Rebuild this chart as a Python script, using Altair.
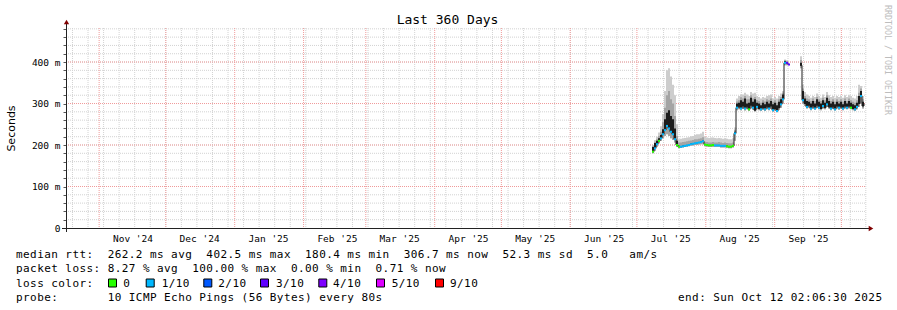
import pandas as pd
import altair as alt

MONO = "DejaVu Sans Mono"

# ---------------- time frame (360 days ending at "end") ----------------
START = "2024-10-17 02:06:30"
END = "2025-10-12 02:06:30"
MONTH_STARTS = ["2024-11-01", "2024-12-01", "2025-01-01", "2025-02-01", "2025-03-01",
                "2025-04-01", "2025-05-01", "2025-06-01", "2025-07-01", "2025-08-01",
                "2025-09-01", "2025-10-01"]
MONTH_LABEL_AT = ["2024-11-16", "2024-12-16", "2025-01-16", "2025-02-16", "2025-03-16",
                  "2025-04-16", "2025-05-16", "2025-06-16", "2025-07-16", "2025-08-16",
                  "2025-09-16"]
FIRST_WEEK = "2024-10-20"

Y_MINOR = list(range(20, 481, 20))
Y_MAJOR = [100, 200, 300, 400]
Y_TICKS = list(range(0, 481, 20))

# ---------------- measured series (ms) ----------------
SAMPLE_START = "2025-07-07 19:00"
SAMPLE_STEP_MIN = 1296  # 0.9 day per sample

MED = [184, 192, 202, 210, 216, 226, 236, 246, 240, 232, 226, 214, 200, 196, 196, 197, 198, 199,
       200, 202, 203, 204, 205, 206, 207, 209, 201, 200, 199, 199, 200, 199, 199, 199, 198, 198,
       198, 197, 196, 196, 198, 228, 290, 292, 288, 294, 288, 292, 286, 296, 290, 284, 292, 288,
       286, 290, 286, 292, 288, 294, 284, 288, 282, 290, 298, 310, 398, 398, 394,
       None, None, None, None, None,
       392, 308, 300, 292, 296, 288, 294, 288, 296, 290, 288, 294, 290, 298, 292, 288, 292, 286,
       294, 290, 292, 288, 294, 290, 294, 290, 288, 286, 292, 300, 318, 294, 300]
BLK = [195, 205, 210, 216, 224, 238, 262, 278, 284, 270, 262, 240, 210, 198, 197, 198, 199, 200,
       201, 203, 204, 205, 206, 207, 208, 210, 202, 201, 200, 200, 201, 200, 200, 200, 199, 199,
       199, 198, 197, 197, 199, 232, 300, 302, 308, 304, 312, 300, 302, 314, 304, 310, 302, 300,
       296, 302, 298, 304, 300, 306, 298, 302, 296, 304, 310, 322, 402, 400, 396,
       None, None, None, None, None,
       398, 330, 312, 306, 304, 300, 306, 300, 310, 304, 300, 308, 302, 314, 306, 300, 304, 298,
       304, 300, 304, 298, 306, 300, 306, 302, 298, 296, 302, 318, 330, 304, 307]
DK = [198, 208, 214, 222, 232, 255, 290, 320, 330, 310, 300, 270, 222, 206, 206, 207, 208, 209,
      210, 211, 212, 214, 214, 215, 216, 219, 208, 207, 206, 206, 207, 206, 206, 207, 206, 205,
      206, 205, 204, 204, 206, 236, 305, 308, 315, 312, 318, 310, 310, 320, 312, 316, 308, 306,
      302, 308, 305, 310, 308, 312, 304, 308, 302, 310, 316, 326, 404, 402, 399,
      None, None, None, None, None,
      405, 336, 318, 312, 310, 306, 312, 306, 316, 310, 306, 314, 308, 320, 312, 306, 310, 304,
      310, 306, 310, 304, 312, 306, 312, 308, 304, 302, 308, 326, 336, 310, 312]
HI = [200, 212, 220, 230, 245, 275, 330, 380, 385, 365, 345, 320, 250, 214, 215, 216, 217, 218,
      219, 221, 222, 224, 226, 226, 228, 232, 220, 218, 217, 218, 218, 217, 216, 217, 216, 215,
      216, 215, 214, 214, 216, 242, 312, 318, 322, 322, 326, 322, 318, 328, 324, 326, 318, 316,
      312, 316, 314, 318, 320, 322, 312, 316, 312, 318, 324, 330, 406, 404, 402,
      None, None, None, None, None,
      414, 345, 328, 322, 318, 314, 318, 316, 324, 318, 314, 322, 316, 328, 320, 316, 318, 314,
      318, 316, 318, 314, 320, 316, 320, 318, 314, 312, 318, 345, 342, 318, 320]
LO = [180, 186, 196, 204, 210, 216, 222, 226, 222, 216, 212, 206, 195, 192, 193, 194, 195, 196,
      197, 198, 199, 200, 200, 201, 202, 203, 197, 196, 195, 195, 195, 195, 195, 195, 194, 194,
      194, 193, 192, 192, 194, 210, 284, 286, 284, 287, 283, 286, 282, 288, 285, 281, 286, 284,
      282, 285, 282, 286, 284, 287, 280, 284, 279, 285, 290, 300, 392, 392, 390,
      None, None, None, None, None,
      385, 300, 294, 288, 290, 284, 288, 285, 290, 286, 284, 288, 286, 292, 288, 284, 287, 283,
      288, 285, 287, 284, 288, 286, 288, 286, 284, 282, 286, 292, 300, 288, 294]
# loss colour visible at the median (None = covered by the dark smoke / no data)
LOSS = ["0", "1/10", "1/10", "0", "1/10", "1/10", "1/10", "1/10", "1/10", "1/10", "1/10", "1/10",
        "0", "0", "1/10", "1/10", "1/10", "1/10", "1/10", "1/10", "1/10", "1/10", "1/10", "1/10",
        "1/10", "1/10", "0", "0", "0", "0", "0", "1/10", "1/10", "1/10", "1/10", "1/10", "1/10",
        "0", "0", "0", "0", "1/10",
        "1/10", None, "1/10", None, "1/10", None, "0", None, "1/10", None, "1/10", None, "1/10",
        None, "1/10", None, "1/10", None, "1/10", None, "1/10", None, "1/10", "1/10", "1/10",
        None, None, None, None, None,
        "9/10", "1/10", None, "1/10", None, "1/10", None, "1/10", None, "1/10", None, "1/10",
        None, "1/10", None, "1/10", None, "1/10", None, "1/10", None, "1/10", None, "1/10", None,
        "1/10", None, "0", None, "1/10", "1/10", None, "1/10"]
LOSS[66:69] = ["1/10", "3/10", "3/10"]

LOSS_NAMES = ["0", "1/10", "2/10", "3/10", "4/10", "5/10", "9/10"]
LOSS_COLORS = ["#26ff00", "#00b8ff", "#0059ff", "#5e00ff", "#7e00ff", "#dd00ff", "#ff0000"]

# ---------------- legend text ----------------
LEG_RTT = "median rtt:  262.2 ms avg  402.5 ms max  180.4 ms min  306.7 ms now  52.3 ms sd  5.0   am/s"
LEG_LOSS = "packet loss: 8.27 % avg  100.00 % max  0.00 % min  0.71 % now"
LEG_COLOR = "loss color:"
LEG_PROBE = "probe:       10 ICMP Echo Pings (56 Bytes) every 80s"
LEG_END = "end: Sun Oct 12 02:06:30 2025"
TITLE = "Last 360 Days"
WATERMARK = "RRDTOOL / TOBI OETIKER"


def ms(s):
    return int(pd.Timestamp(s, tz="UTC").timestamp() * 1000)


T0, T1 = ms(START), ms(END)
month_ms = [ms(d) for d in MONTH_STARTS]
label_ms = [ms(d) for d in MONTH_LABEL_AT]
week_ms = [int(t.timestamp() * 1000) for t in pd.date_range(FIRST_WEEK, END[:10], freq="7D", tz="UTC")]

n = len(MED)
LOSS = (LOSS + [None] * n)[:n]
times = pd.date_range(SAMPLE_START, periods=n, freq=f"{SAMPLE_STEP_MIN}min", tz="UTC")
t_ms = [int(t.timestamp() * 1000) for t in times]
df = pd.DataFrame({"t": t_ms, "med": MED, "blk": BLK, "dk": DK, "hi": HI, "lo": LO, "loss": LOSS})
gap_at = MED.index(None)
df["seg"] = [0 if i < gap_at else 1 for i in range(len(df))]
df["tn"] = df["t"] + SAMPLE_STEP_MIN * 60 * 1000
df = df.dropna(subset=["med"]).reset_index(drop=True)
df_loss = df.dropna(subset=["loss"])

# ---------------- layout (pixels, relative to plot origin) ----------------
W, H = 800, 200
PAD = {"left": 66, "top": 28, "right": 31, "bottom": 82}
CHAR = 7.05
LEG_X0 = 16 - PAD["left"]
ROW_Y = [229.5, 244.0, 258.5, 273.0]
BOX_X = [112.5, 150.2, 207.8, 264.5, 322.8, 380.5, 439.5]
BOX_LABEL_X = [123.3, 161.7, 218.3, 276.0, 333.0, 391.7, 450.0]
END_X = 678 - PAD["left"]

xs = alt.Scale(type="utc", domain=[T0, T1])
ys = alt.Scale(domain=[0, 482], nice=False, zero=False)

X_AXIS = alt.Axis(values=label_ms, labelExpr="utcFormat(datum.value, \"%b '%y\")",
                  ticks=False, domain=False, grid=False, title=None,
                  labelFont=MONO, labelFontSize=9.5, labelColor="black",
                  labelPadding=13, labelBaseline="alphabetic", labelAngle=0,
                  labelOverlap=False, labelFlush=False)
NB = "\u00a0"
Y_AXIS = alt.Axis(values=Y_TICKS,
                  labelExpr=f"datum.value % 100 == 0 ? (datum.value == 0 ? '0{NB}{NB}' : datum.value + ' m') : ''",
                  tickSize=3, tickColor="#555555", domain=False, grid=False,
                  labelFont=MONO, labelFontSize=9.5, labelColor="black", labelPadding=3,
                  labelOverlap=False, labelFlush=False,
                  title="Seconds", titleFont="DejaVu Sans", titleFontSize=11,
                  titleFontWeight="normal", titleColor="black", titleX=-55, titleY=100,
                  titleAngle=270, titleAlign="center", titleBaseline="middle")

X = lambda f: alt.X(f, scale=xs, axis=X_AXIS)
Y = lambda f: alt.Y(f, scale=ys, axis=Y_AXIS)
one = pd.DataFrame({"a": [0]})

week_grid = alt.Chart(pd.DataFrame({"t": week_ms})).mark_rule(
    color="#d2d2d2", strokeDash=[1, 1], strokeWidth=1).encode(
    x=X("t:T"), y=alt.value(0), y2=alt.value(H))
hminor = alt.Chart(pd.DataFrame({"v": Y_MINOR})).mark_rule(
    color="#d2d2d2", strokeDash=[1, 1], strokeWidth=1).encode(
    y=Y("v:Q"), x=alt.value(0), x2=alt.value(W))
month_grid = alt.Chart(pd.DataFrame({"t": month_ms})).mark_rule(
    color="#f09a9a", strokeDash=[1, 1], strokeWidth=1).encode(
    x=X("t:T"), y=alt.value(0), y2=alt.value(H))
hmajor = alt.Chart(pd.DataFrame({"v": Y_MAJOR})).mark_rule(
    color="#f09a9a", strokeDash=[1, 1], strokeWidth=1).encode(
    y=Y("v:Q"), x=alt.value(0), x2=alt.value(W))

smoke_light = alt.Chart(df).mark_area(interpolate="step-after", color="#cdcdcd").encode(
    x=X("t:T"), y=Y("lo:Q"), y2="hi:Q", detail="seg:N")
smoke_dark = alt.Chart(df).mark_area(interpolate="step-after", color="#a4a4a4").encode(
    x=X("t:T"), y=Y("lo:Q"), y2="dk:Q", detail="seg:N")
smoke_black = alt.Chart(df).mark_area(interpolate="step-after", color="#1c1c1c").encode(
    x=X("t:T"), y=Y("med:Q"), y2="blk:Q", detail="seg:N")
med_black = alt.Chart(df).mark_line(interpolate="step-after", color="#1c1c1c", strokeWidth=1).encode(
    x=X("t:T"), y=Y("med:Q"), detail="seg:N")
loss_marks = alt.Chart(df_loss).mark_rule(strokeWidth=2).encode(
    x=X("t:T"), x2="tn:T", y=Y("med:Q"),
    color=alt.Color("loss:N", scale=alt.Scale(domain=LOSS_NAMES, range=LOSS_COLORS), legend=None))

x_line = alt.Chart(one).mark_rule(color="#222222", strokeWidth=1).encode(
    x=alt.value(-4), x2=alt.value(W + 4), y=alt.value(H + 0.5))
y_line = alt.Chart(one).mark_rule(color="#222222", strokeWidth=1).encode(
    x=alt.value(0.5), y=alt.value(-5), y2=alt.value(H + 4))
arrow_up = alt.Chart(one).mark_point(shape="triangle-up", filled=True, size=28,
                                     color="#800000", opacity=1).encode(
    x=alt.value(0.5), y=alt.value(-6))
arrow_right = alt.Chart(one).mark_point(shape="triangle-right", filled=True, size=28,
                                        color="#800000", opacity=1).encode(
    x=alt.value(W + 5), y=alt.value(H + 0.5))

# legend text is laid out on a fixed character grid, one glyph per cell
rows = []


def put(line, x0, yy):
    for k, ch in enumerate(line):
        if ch != " ":
            rows.append({"px": x0 + k * CHAR, "py": yy, "text": ch})


put(LEG_RTT, LEG_X0, ROW_Y[0])
put(LEG_LOSS, LEG_X0, ROW_Y[1])
put(LEG_COLOR, LEG_X0, ROW_Y[2])
put(LEG_PROBE, LEG_X0, ROW_Y[3])
put(LEG_END, END_X, ROW_Y[3])
for name, lx in zip(LOSS_NAMES, BOX_LABEL_X):
    put(name, lx - PAD["left"], ROW_Y[2])
tok = pd.DataFrame(rows)

legend_text = alt.Chart(tok).mark_text(font=MONO, fontSize=11, align="left",
                                       baseline="alphabetic", color="black").encode(
    x=alt.X("px:Q", scale=None, axis=None), y=alt.Y("py:Q", scale=None, axis=None), text="text:N")

boxes = alt.Chart(pd.DataFrame({"px": [b - PAD["left"] for b in BOX_X],
                                "py": [ROW_Y[2] - 3.5] * len(BOX_X),
                                "c": LOSS_COLORS})).mark_square(
    size=64, filled=True, stroke="black", strokeWidth=1, opacity=1).encode(
    x=alt.X("px:Q", scale=None, axis=None), y=alt.Y("py:Q", scale=None, axis=None),
    fill=alt.Fill("c:N", scale=None))

title = alt.Chart(one).mark_text(font=MONO, fontSize=13, align="center",
                                 baseline="alphabetic", color="black").encode(
    x=alt.value(447.5 - PAD["left"]), y=alt.value(24 - PAD["top"]), text=alt.value(TITLE))
watermark = alt.Chart(one).mark_text(font=MONO, fontSize=8.3, angle=90, align="left",
                                     baseline="middle", color="#bdbdbd").encode(
    x=alt.value(887 - PAD["left"]), y=alt.value(5 - PAD["top"]), text=alt.value(WATERMARK))

chart = alt.layer(
    week_grid, hminor, month_grid, hmajor,
    smoke_light, smoke_dark, smoke_black, med_black, loss_marks,
    x_line, y_line, arrow_up, arrow_right,
    legend_text, boxes, title, watermark,
).properties(
    width=W, height=H, padding=PAD,
    autosize=alt.AutoSizeParams(type="none"), background="white",
).configure_view(strokeWidth=0)

chart.save("out.html", embed_options={"renderer": "svg", "actions": False})
